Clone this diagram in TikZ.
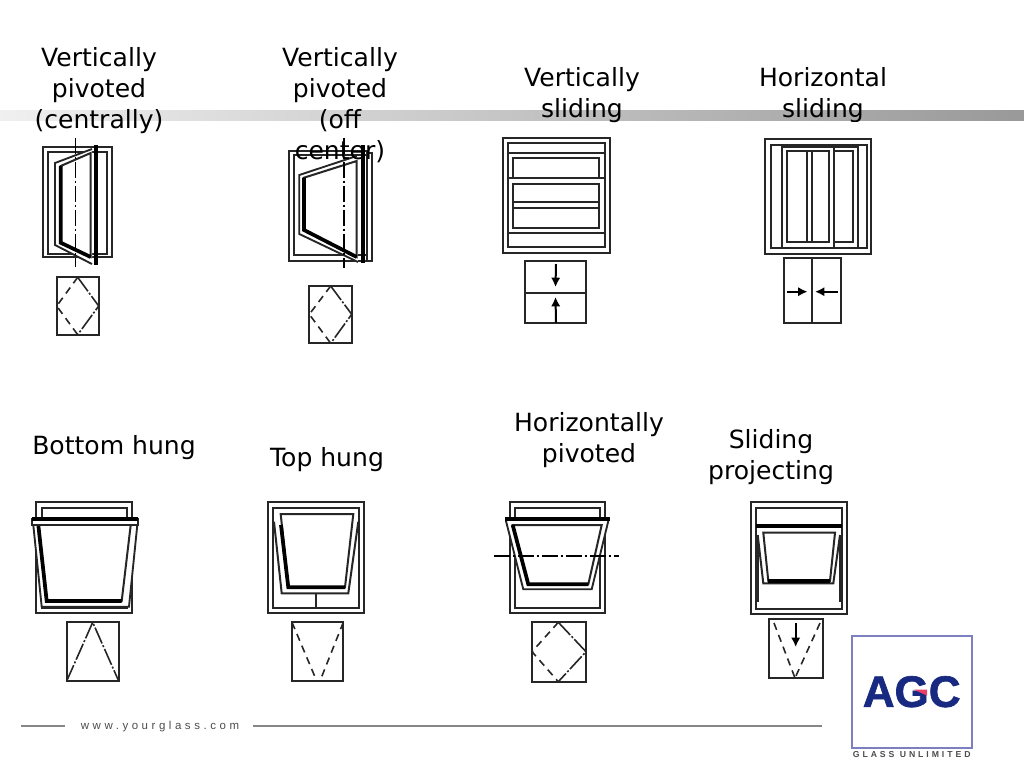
\documentclass[tikz,border=0pt]{standalone}
\usepackage{fontspec}
\setmainfont{DejaVu Sans}
\newfontfamily\footfont[LetterSpace=31]{Liberation Sans}
\newfontfamily\taglinefont[LetterSpace=34]{Liberation Sans Bold}
\newfontfamily\logofont[FakeBold=1.5]{Liberation Sans Bold}
\usetikzlibrary{arrows.meta}
\definecolor{bandgray}{rgb}{0.6,0.6,0.6}
\definecolor{logonavy}{rgb}{0.09,0.16,0.5}
\definecolor{logoedge}{rgb}{0.49,0.5,0.75}
\definecolor{logored}{rgb}{0.91,0.25,0.42}
\definecolor{footgray}{rgb}{0.53,0.53,0.53}
\tikzset{
  framing/.style={line width=1.5pt,line join=miter,draw=black!85},
  sashing/.style={line width=1.4pt,fill=white,draw=black!85},
  heavy/.style={line width=2.8pt},
  axisline/.style={line width=1.1pt,dash pattern={on 12pt off 2pt on 2pt off 2pt}},
  hinge/.style={line width=1.2pt,draw=black!85,dash pattern={on 13pt off 1.5pt on 1.5pt off 1.5pt}},
  swing/.style={line width=1.2pt,draw=black!85,dash pattern={on 5.5pt off 4pt}},
  label/.style={align=center,font=\fontsize{18.8}{23.2}\selectfont,inner sep=0pt},
  motion/.style={line width=1.5pt,-{Latex[length=7pt,width=7pt]}}
}
\begin{document}
\begin{tikzpicture}[x=0.75pt,y=0.75pt,yscale=-1,xscale=1]
\useasboundingbox (0,0) rectangle (1024,768);
%Shape: background band
\shade [left color=black!6,middle color=black!24,right color=bandgray] (0,110) rectangle (1024,120);

%Labels, top row
\node [label] (lblcentral) at (99,90.5) {Vertically\\pivoted\\(centrally)};
\node [label] (lblvertslide) at (582,95.5) {Vertically\\sliding};
\node [label] (lblhorizslide) at (823,95.5) {Horizontal\\sliding};
\fill [white] (770,122) rectangle (880,136);

%Window: vertically pivoted, central
\draw [framing] (42.7,146.7) rectangle (112,257.3);
\draw [framing] (48,152) rectangle (107.3,254);
\draw [sashing] (92,149) -- (55,163) -- (55,245) -- (92,264) ;
\draw [framing] (90.7,153) -- (60.7,166) -- (60.7,242.7) -- (90.7,257) -- cycle;
\draw [heavy] (60.7,166) -- (60.7,242.7) -- (90.7,257);
\draw [heavy] (96,145) -- (96,265);
\draw [axisline] (75.7,138) -- (75.7,267);
%Symbol
\draw [framing] (56.7,277.3) rectangle (98.7,334.7);
\draw [hinge] (77.7,277.3) -- (98.7,306) -- (77.7,334.7);
\draw [swing] (77.7,277.3) -- (56.7,306) -- (77.7,334.7);

%Window: vertically pivoted, off center
\draw [framing] (288.7,150.7) rectangle (367.3,260.7);
\draw [framing] (294,155) rectangle (367.3,255);
\draw [framing] (367.3,152.7) -- (372,152.7) -- (372,260.7) -- (367.3,260.7);
\draw [sashing] (356.7,156) -- (299.3,175) -- (299.3,234) -- (358,262) ;
\draw [framing] (356.7,161) -- (304,177.7) -- (304,230) -- (356.7,257) -- cycle;
\draw [heavy] (304,177.7) -- (304,230) -- (356.7,257);
\draw [heavy] (363,145) -- (363,263);
\draw [axisline] (344,138) -- (344,268);
%Symbol
\draw [framing] (309.3,286) rectangle (351.7,343.3);
\draw [hinge] (330.7,286) -- (351.7,314.3) -- (330.7,343.3);
\draw [swing] (330.7,286) -- (309.3,314.3) -- (330.7,343.3);
\node [label] (lbloffcenter) at (340,105) {Vertically\\pivoted\\(off\\center)};

%Window: vertically sliding
\draw [framing] (502.7,138.3) rectangle (610,252.7);
\draw [framing] (508.3,143.3) rectangle (604.7,246.7);
\draw [framing] (508.3,152.7) -- (604.7,152.7);
\draw [framing] (513.3,178.3) -- (513.3,158.3) -- (599.3,158.3) -- (599.3,178.3);
\draw [framing] (508.3,178.3) -- (604.7,178.3);
\draw [framing] (513.3,184) rectangle (599.3,228.3);
\draw [framing] (513.3,202) -- (599.3,202);
\draw [framing] (513.3,208) -- (599.3,208);
\draw [framing] (508.3,233.3) -- (604.7,233.3);
%Symbol
\draw [framing] (525,261) rectangle (586,322.7);
\draw [framing] (525,292.7) -- (586,292.7);
\draw [motion] (556,264) -- (555.5,287);
\draw [motion] (556,322.7) -- (555.5,297);

%Window: horizontal sliding
\draw [framing] (765.3,139.3) rectangle (870.7,254);
\draw [framing] (770.7,145) rectangle (866.7,248.3);
\draw [framing] (782.3,145) -- (782.3,248.3);
\draw [framing] (858.3,145) -- (858.3,248.3);
\draw [framing] (834,145) -- (834,248.3);
\draw [framing] (782.3,147) -- (858.3,147);
\draw [framing] (787.3,150.7) rectangle (829.3,242.3);
\draw [framing] (806.7,150.7) -- (806.7,242.3);
\draw [framing] (811.7,150.7) -- (811.7,242.3);
\draw [framing] (834,150.7) -- (853.3,150.7) -- (853.3,242.3) -- (834,242.3);
%Symbol
\draw [framing] (784,258.3) rectangle (841,323.3);
\draw [framing] (811.7,258.3) -- (811.7,323.3);
\draw [motion] (786.7,291.7) -- (807.5,291.7);
\draw [motion] (838.3,291.7) -- (815,291.7);

%Window: bottom hung
\draw [framing] (35.7,502.3) rectangle (132.3,613.3);
\draw [framing] (42.3,508.3) rectangle (127.3,608.3);
\draw [sashing] (33.3,525) -- (41.7,606.7) -- (129,606.7) -- (137.3,525);
\draw [framing] (38.3,525) -- (46.7,601) -- (121.7,601) -- (130.7,525);
\draw [heavy] (38.3,525) -- (46.7,601) -- (121.7,601);
\draw [framing,fill=white] (32.3,519) rectangle (138.3,525);
\draw [heavy] (32.3,519) -- (138.3,519);
%Symbol
\draw [framing] (66.7,622.3) rectangle (118.7,681);
\draw [hinge] (66.7,681) -- (92.7,622.3) -- (118.7,681);

%Window: top hung
\draw [framing] (268.3,502.3) rectangle (364.3,613.3);
\draw [framing] (273.3,508.3) rectangle (359.3,607.7);
\draw [framing] (274,521.7) -- (281.7,593.3) -- (348.3,593.3) -- (358.3,521.7);
\draw [framing] (280.7,514) -- (288.3,587.3) -- (345,587.3) -- (353.3,514) -- cycle;
\draw [heavy] (281,525) -- (288.3,587.3) -- (345,587.3);
\draw [framing] (316,593.3) -- (316,607.7);
%Symbol
\draw [framing] (292,622.3) rectangle (343.3,681);
\draw [swing] (292,622.3) -- (316.7,681);
\draw [swing] (343.3,622.3) -- (320,681);

%Window: horizontally pivoted
\draw [framing] (510,502.3) rectangle (605,613.3);
\draw [framing] (515,508.3) rectangle (600,608.3);
\draw [sashing] (506,521) -- (523.3,589.3) -- (591.7,589.3) -- (608.3,521);
\draw [framing] (512.7,525) -- (528.3,584.3) -- (588.3,584.3) -- (601.7,525) -- cycle;
\draw [heavy] (512.7,525) -- (528.3,584.3) -- (588.3,584.3);
\draw [heavy] (505,518.8) -- (610,518.8);
\draw [axisline] (494,556) -- (619.3,556);
%Symbol
\draw [framing] (532,622.3) rectangle (586,681.7);
\draw [hinge] (558.3,622.3) -- (586,651.7) -- (558.3,681.7);
\draw [swing] (558.3,622.3) -- (532,651.7) -- (558.3,681.7);

%Window: sliding projecting
\draw [framing] (751,502.3) rectangle (846.7,614);
\draw [framing] (756,508.3) rectangle (841.7,609);
\draw [heavy] (756,525.7) -- (841.7,525.7);
\draw [framing] (757.7,535) -- (763.3,583.3) -- (833.3,583.3) -- (840,535);
\draw [framing] (763.3,532.7) -- (768.3,581) -- (830,581) -- (835,532.7) -- cycle;
\draw [heavy] (768.3,581) -- (830,581);
\draw [framing] (757.7,535) -- (757.7,602);
\draw [framing] (840,535) -- (840,602);
%Symbol
\draw [framing] (769.3,619) rectangle (822.7,678.3);
\draw [swing] (774,623) -- (795,678);
\draw [swing] (820,623) -- (795,678);
\draw [motion] (795.7,622.7) -- (795.7,647);

%Labels, bottom row
\node [label] (lblbottom) at (114,448) {Bottom hung};
\node [label] (lbltop) at (327,460) {Top hung};
\node [label] (lblhorizpivot) at (589,440) {Horizontally\\pivoted};
\node [label] (lblprojecting) at (771,457) {Sliding\\projecting};

%Footer
\draw [footgray,line width=1.5pt] (21,725.7) -- (65,725.7);
\node [inner sep=0pt,text=black!70,font=\footfont\fontsize{8.6}{10}\selectfont] (footurl) at (160,726.5) {www.yourglass.com};
\draw [footgray,line width=1.5pt] (253,725.7) -- (822,725.7);

%Logo
\draw [logoedge,line width=1.5pt,fill=white] (851.7,635.7) rectangle (971.7,747.7);
\node [inner sep=0pt,text=logonavy,font=\logofont\fontsize{33}{36}\selectfont] (logoname) at (911.7,691.7) {AGC};
\fill [logored] (913.5,689.5) -- (927,689.5) -- (927,695.5) -- cycle;
\node [inner sep=0pt,text=black!70,font=\taglinefont\fontsize{6.5}{7}\selectfont] (logotag) at (911.7,755) {GLASS UNLIMITED};
\end{tikzpicture}
\end{document}
